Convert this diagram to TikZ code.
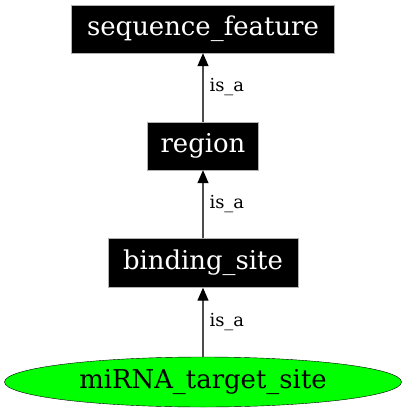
\documentclass[tikz,border=0pt]{standalone}
\usepackage{fontspec}
\setmainfont{DejaVu Serif}
\usetikzlibrary{arrows.meta,shapes.geometric}

\tikzset{
  termbox/.style={fill=black, text=white, draw=gray!60, inner sep=0pt,
    font=\fontsize{26}{30}\selectfont},
  isa/.style={-{Triangle[length=13bp,width=11bp,color=black]}, line width=1.3bp, black!70},
  isalabel/.style={font=\fontsize{18}{20}\selectfont, anchor=west}
}

\begin{document}
\begin{tikzpicture}[x=1bp, y=-1bp]
  \useasboundingbox (0,0) rectangle (408,419);
  \node[termbox, minimum width=263bp, minimum height=48bp] (seqfeat) at (203,29) {sequence\_feature};
  \node[termbox, minimum width=111bp, minimum height=48bp] (region) at (203,146) {region};
  \node[termbox, minimum width=190bp, minimum height=49bp] (bindsite) at (203,263) {binding\_site};
  \node[draw=black, fill=green, ellipse, minimum width=397bp, minimum height=50bp, inner sep=0pt,
    font=\fontsize{26}{30}\selectfont] (mirna) at (203,382) {miRNA\_target\_site};
  \draw[isa] (region) -- (seqfeat);
  \draw[isa] (bindsite) -- (region);
  \draw[isa] (mirna) -- (bindsite);
  \node[isalabel] (lbl1) at (206,87) {is\_a};
  \node[isalabel] (lbl2) at (206,204) {is\_a};
  \node[isalabel] (lbl3) at (206,322) {is\_a};
\end{tikzpicture}
\end{document}
